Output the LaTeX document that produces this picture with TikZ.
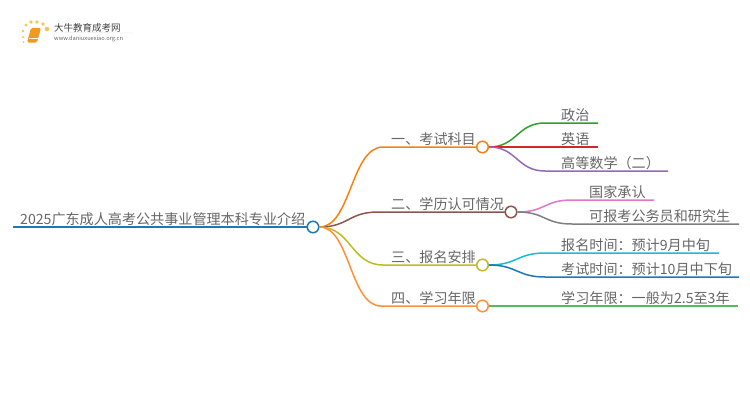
\documentclass[tikz,border=0pt]{standalone}
\usepackage{fontspec}
\setmainfont{Noto Sans CJK SC}
\usetikzlibrary{positioning}
\definecolor{tabblue}{HTML}{1F77B4}
\definecolor{taborange}{HTML}{FF7F0E}
\definecolor{tabbrown}{HTML}{8C564B}
\definecolor{tabolive}{HTML}{BCBD22}
\definecolor{tabamber}{HTML}{FF9139}
\definecolor{tabgreen}{HTML}{2CA02C}
\definecolor{tabred}{HTML}{D62728}
\definecolor{tabpurple}{HTML}{9467BD}
\definecolor{tabpink}{HTML}{E377C2}
\definecolor{tabgray}{HTML}{7F7F7F}
\definecolor{tabcyan}{HTML}{17BECF}
\definecolor{tablime}{HTML}{5CB85C}
\definecolor{inktext}{HTML}{666666}
\definecolor{logobook}{HTML}{F29A1F}
\definecolor{logodot}{HTML}{F7C650}
\tikzset{
    hubnode/.style={draw,circle,fill=white,line width=1.5pt,minimum size=11.5pt,inner sep=0pt},
    mindtext/.style={anchor=south west,inner sep=0pt,text=inktext,font=\fontsize{14.1}{14}\selectfont},
    mindline/.style={line width=1.5pt}
}

\begin{document}
\begin{tikzpicture}[x=1pt,y=-1pt]
    \useasboundingbox (0,0) rectangle (750,410);
    % Logo
    \fill[rounded corners=1.5pt,logobook] (31,28) -- (41,28) -- (37,42.5) -- (27,42.5) -- cycle;
    \draw[white,line width=.6pt] (29,38.5) -- (37.5,38.5);
    \foreach \x/\y/\r in {26/25/1.6,31/22/1.9,37/22/1.9,43/24/1.9,47/29/2.3,23/31/1.3,23/37/1.1,23.5/42/1} {
        \fill[logodot] (\x,\y) circle (\r);
    }
    \node[anchor=west,inner sep=0pt,text=black!75,font=\fontsize{9.5}{10}\selectfont] (logotitle) at (54,27.5) {大牛教育成考网};
    \node[anchor=west,inner sep=0pt,text=black!60,font=\fontsize{5.7}{6}\selectfont] (logourl) at (54,39) {www.daniuxuexiao.org.cn};
    \coordinate (logorule) at (133,33);
    \draw[black!8,line width=.5pt] (logotitle.south west) -- (logorule);
    % Root
    \node[hubnode,draw=tabblue] (root) at (313,227) {};
    \coordinate (rootend) at (13,227);
    \draw[tabblue,line width=2pt] (rootend) -- (root);
    \node[mindtext] (roottext) at (20,226) {2025广东成人高考公共事业管理本科专业介绍};
    % Main branches
    \foreach \name/\x/\y/\flat/\colour/\title in {
        kemu/482.5/147/383/taborange/一、考试科目,
        xueli/511/212/378/tabbrown/二、学历认可情况,
        baoming/482.5/265/383/tabolive/三、报名安排,
        nianxian/482.5/306/381/tabamber/四、学习年限
    } {
        \coordinate (\name flat) at (\flat,\y);
        \draw[\colour,mindline] (root.east) .. controls ({(319+\flat)/2},227) and ({(319+\flat)/2},\y) .. (\name flat) -- (\x,\y);
        \node[hubnode,draw=\colour] (\name) at (\x,\y) {};
        \node[mindtext] (\name text) at (391,\y-1) {\title};
    }
    % Leaves
    \foreach \hub/\i/\y/\flat/\stop/\tx/\colour/\title in {
        kemu/1/123/545/598/561/tabgreen/政治,
        kemu/2/147/545/598/561/tabred/英语,
        kemu/3/171/545/668/561/tabpurple/高等数学（二）,
        xueli/1/200/572/654/589/tabpink/国家承认,
        xueli/2/224/572/739/589/tabgray/可报考公务员和研究生,
        baoming/1/253/545/719/561/tabcyan/报名时间：预计9月中旬,
        baoming/2/277/545/739/561/tabblue/考试时间：预计10月中下旬,
        nianxian/1/306/545/738/561/tablime/学习年限：一般为2.5至3年
    } {
        \coordinate (\hub flat\i) at (\flat,\y);
        \coordinate (\hub end\i) at (\stop,\y);
        \draw[\colour,mindline] (\hub.east) .. controls ([xshift=28pt]\hub.east) and ([xshift=-28pt]\hub flat\i) .. (\hub flat\i) -- (\hub end\i);
        \node[mindtext] (\hub leaf\i) at (\tx,\y-1) {\title};
    }
\end{tikzpicture}
\end{document}
